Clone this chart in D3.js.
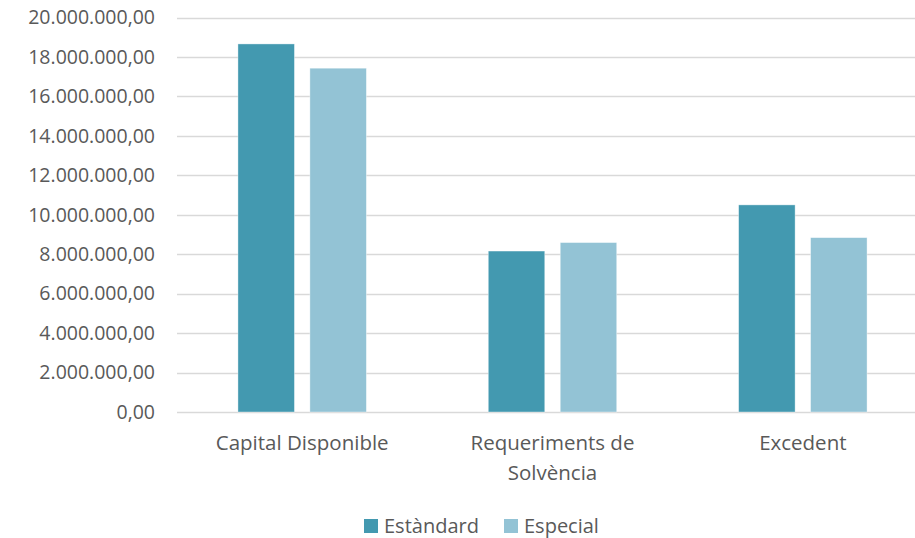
<!DOCTYPE html>
<html>
<head>
<meta charset="utf-8">
<script src="https://cdn.jsdelivr.net/npm/d3@7"></script>
<style>
  html, body { margin: 0; padding: 0; background: #fff; }
  svg { display: block; font-family: "Open Sans", sans-serif; }
</style>
</head>
<body>
<svg id="chart" width="915" height="538"></svg>
<script>
// Solvency figures per category
const categories = ["Capital Disponible", "Requeriments de Solvència", "Excedent"];
const categoryLines = [["Capital Disponible"], ["Requeriments de", "Solvència"], ["Excedent"]];
const seriesNames = ["Estàndard", "Especial"];
const estandard = [18660000, 8160000, 10500000];
const especial = [17430000, 8590000, 8840000];
const yTicks = [0, 2000000, 4000000, 6000000, 8000000, 10000000, 12000000, 14000000, 16000000, 18000000, 20000000];

const colors = ["#4399b0", "#93c3d5"];
const textColor = "#595959";

const svg = d3.select("#chart");

const x = d3.scaleBand().domain(categories).range([177, 928]).paddingInner(0).paddingOuter(0);
const y = d3.scaleLinear().domain([0, 20000000]).range([412, 17.5]);

const fmt = v => {
  const s = d3.format(",.2f")(v);
  return s.replace(/,/g, "X").replace(/\./g, ",").replace(/X/g, ".");
};

// Grid lines
svg.append("g")
  .selectAll("line")
  .data(yTicks)
  .join("line")
  .attr("x1", 177).attr("x2", 928)
  .attr("y1", d => Math.round(y(d)) + 0.5).attr("y2", d => Math.round(y(d)) + 0.5)
  .attr("stroke", "#d9d9d9").attr("stroke-width", 1.5);

// Y axis labels
const yAxis = svg.append("g").attr("transform", "translate(155,0)")
  .call(d3.axisLeft(y).tickValues(yTicks).tickFormat(fmt).tickSize(0).tickPadding(0));
yAxis.select(".domain").remove();
yAxis.selectAll("text").attr("fill", textColor).style("font-size", "19.5px").style("font-family", "'Open Sans', sans-serif");

// Bars
const sub = d3.scaleBand().domain(seriesNames).range([0, x.bandwidth()]).paddingInner(0.215).paddingOuter(0.847);
const rows = categories.map((c, i) => ({ c, vals: [estandard[i], especial[i]] }));
const groups = svg.append("g").selectAll("g").data(rows).join("g")
  .attr("transform", d => `translate(${x(d.c)},0)`);
groups.selectAll("rect")
  .data(d => d.vals.map((v, j) => ({ v, j })))
  .join("rect")
  .attr("x", d => sub(seriesNames[d.j]))
  .attr("width", sub.bandwidth())
  .attr("y", d => y(d.v))
  .attr("height", d => y(0) - y(d.v))
  .attr("fill", d => colors[d.j])
  .attr("stroke", "#ffffff").attr("stroke-opacity", 0.5).attr("stroke-width", 0.75);

// Category labels
const xl = svg.append("g").selectAll("text").data(categories).join("text")
  .attr("x", d => x(d) + x.bandwidth() / 2)
  .attr("y", 450)
  .attr("text-anchor", "middle")
  .attr("fill", textColor)
  .style("font-size", "20.5px");
xl.each(function (d, i) {
  d3.select(this).selectAll("tspan").data(categoryLines[i]).join("tspan")
    .attr("x", x(d) + x.bandwidth() / 2)
    .attr("dy", (t, k) => k === 0 ? 0 : 30)
    .text(t => t);
});

// Legend
const legendX = [364, 504];
const lg = svg.append("g").selectAll("g").data(seriesNames).join("g")
  .attr("transform", (d, i) => `translate(${legendX[i]},519)`);
lg.append("rect").attr("width", 14).attr("height", 14).attr("fill", (d, i) => colors[i]);
lg.append("text").attr("x", 20).attr("y", 14).attr("fill", textColor)
  .style("font-size", "20px").text(d => d);
</script>
</body>
</html>
